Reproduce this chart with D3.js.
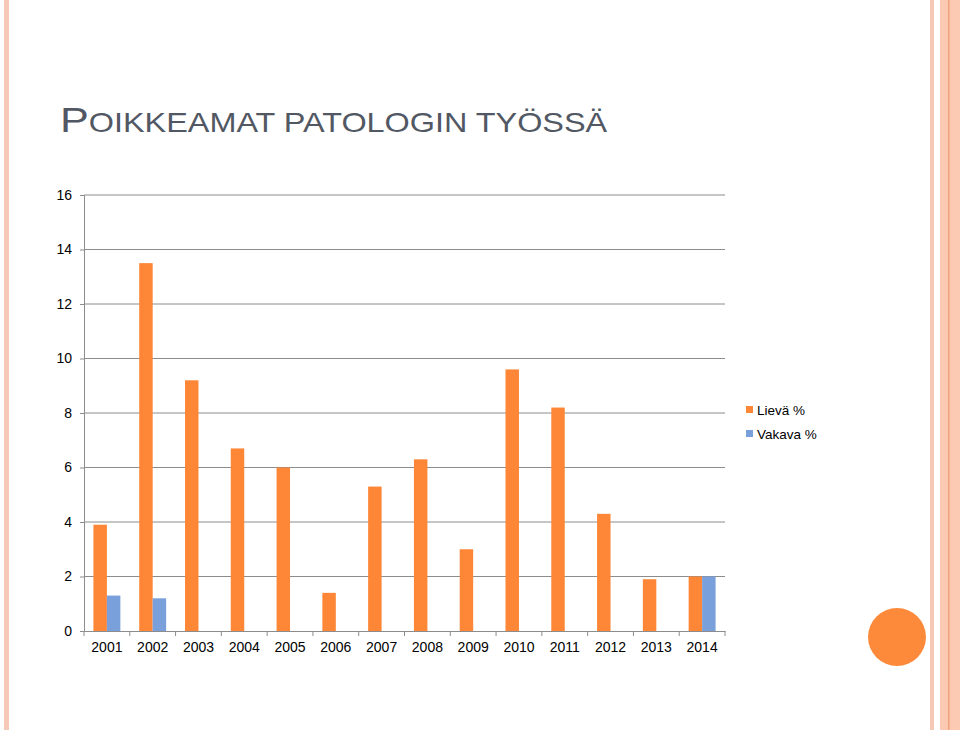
<!DOCTYPE html>
<html><head><meta charset="utf-8">
<script src="https://cdn.jsdelivr.net/npm/d3@7/dist/d3.min.js"></script>
<style>body{margin:0;background:#fff}svg{display:block}text{font-family:"Liberation Sans",Arial,sans-serif}</style>
</head><body><svg id="c" width="960" height="730"></svg>
<script>
const years = ["2001","2002","2003","2004","2005","2006","2007","2008","2009","2010","2011","2012","2013","2014"];
const lieva = [3.9,13.5,9.2,6.7,6.0,1.4,5.3,6.3,3.0,9.6,8.2,4.3,1.9,2.0];
const vakava = [1.3,1.2,null,null,null,null,null,null,null,null,null,null,null,2.0];
const seriesNames = ["Lievä %","Vakava %"];
const yTicks = [0,2,4,6,8,10,12,14,16];
const colors = ["#fd8637","#7aa0db"];

const svg = d3.select("#c");
// decorations
svg.append("rect").attr("x",4).attr("y",0).attr("width",5).attr("height",730).attr("fill","#f5c8b8");
svg.append("rect").attr("x",930).attr("y",0).attr("width",4).attr("height",730).attr("fill","#f5c8b8");
svg.append("rect").attr("x",940).attr("y",0).attr("width",20).attr("height",730).attr("fill","#fcc9b3");
svg.append("rect").attr("x",948).attr("y",0).attr("width",1.5).attr("height",730).attr("fill","#eda27c");
svg.append("circle").attr("cx",897).attr("cy",637).attr("r",29).attr("fill","#fd8a3a");

// title
const t = svg.append("text").attr("transform","translate(60,132) scale(1.2,1)").attr("fill","#525863");
t.append("tspan").attr("font-size",36).text("P");
t.append("tspan").attr("font-size",27).text("OIKKEAMAT PATOLOGIN TYÖSSÄ");

const L=84,R=725,T=195,B=631;
const x = d3.scaleBand().domain(years).range([L,R]).paddingInner(0).paddingOuter(0);
const y = d3.scaleLinear().domain([0,16]).range([B,T]);
const inner = d3.scaleBand().domain([0,1]).range([0,x.bandwidth()]).paddingInner(0.0).paddingOuter(0.7);

// gridlines
const g = svg.append("g");
g.selectAll("line.grid").data(yTicks.filter(d=>d>0)).join("line")
 .attr("x1",L).attr("x2",R).attr("y1",d=>y(d)).attr("y2",d=>y(d))
 .attr("stroke","#8c8c8c").attr("stroke-width",1);

// y axis
const ya = svg.append("g").attr("transform",`translate(${L},0)`)
 .call(d3.axisLeft(y).tickValues(yTicks).tickSize(4).tickPadding(8).tickFormat(d3.format("d")));
ya.select(".domain").attr("stroke","#8c8c8c");
ya.selectAll(".tick line").attr("stroke","#8c8c8c");
ya.selectAll("text").attr("font-size",14).attr("fill","#000").style("font-family","Liberation Sans, Arial, sans-serif");

// bars
const data = [lieva, vakava];
data.forEach((arr,si)=>{
  svg.append("g").selectAll("rect").data(years.map((yr,i)=>({yr,v:arr[i]})).filter(d=>d.v!=null)).join("rect")
   .attr("x",d=>x(d.yr)+inner(si)).attr("width",inner.bandwidth())
   .attr("y",d=>y(d.v)).attr("height",d=>y(0)-y(d.v)).attr("fill",colors[si]);
});

// x axis
const xa = svg.append("g").attr("transform",`translate(0,${B})`)
 .call(d3.axisBottom(x).tickSize(0).tickPadding(11));
xa.select(".domain").attr("stroke","#8c8c8c");
xa.selectAll("text").attr("font-size",14).attr("fill","#000").style("font-family","Liberation Sans, Arial, sans-serif");
svg.append("g").selectAll("line").data(d3.range(years.length+1)).join("line")
 .attr("x1",i=>L+i*x.step()).attr("x2",i=>L+i*x.step()).attr("y1",B).attr("y2",B+5)
 .attr("stroke","#8c8c8c");

// legend
const lg = svg.append("g");
seriesNames.forEach((n,i)=>{
  lg.append("rect").attr("x",746).attr("y",406+i*24).attr("width",7).attr("height",7).attr("fill",colors[i]);
  lg.append("text").attr("x",757).attr("y",415+i*24).attr("font-size",13.5).attr("fill","#000").text(n);
});
</script></body></html>
